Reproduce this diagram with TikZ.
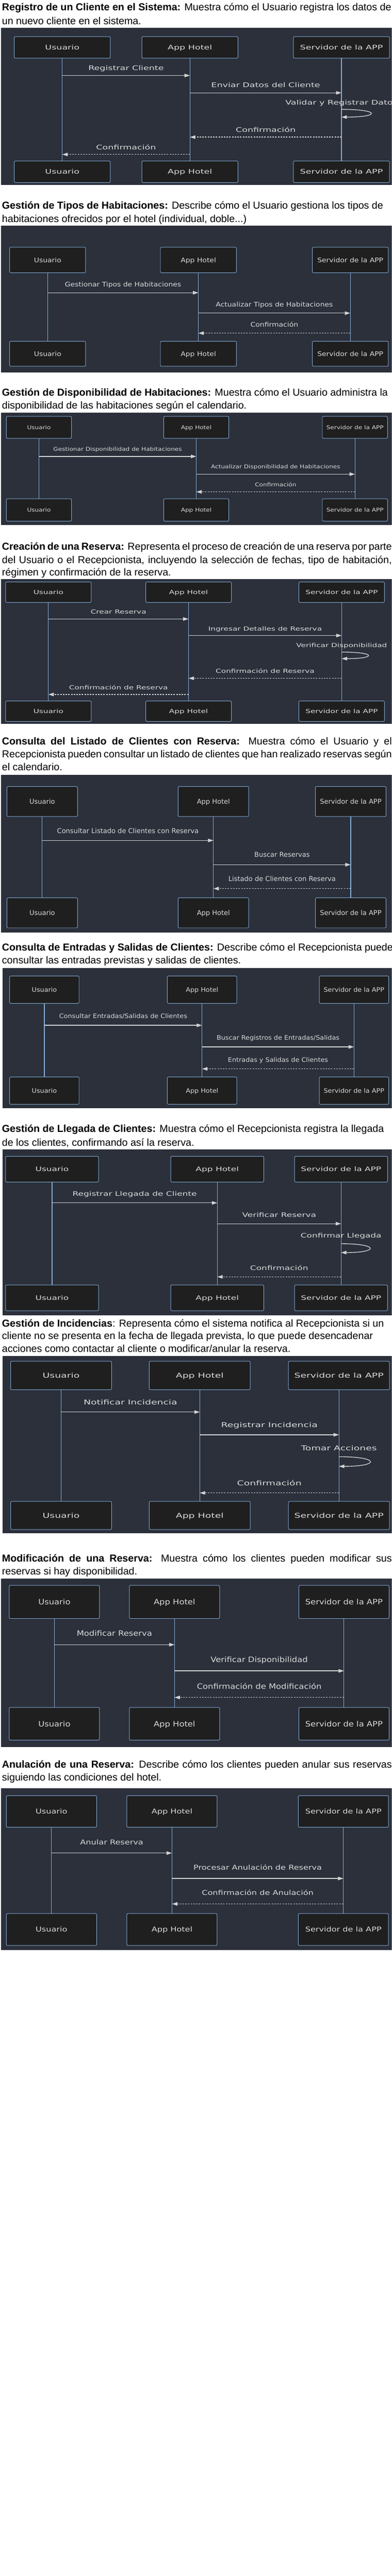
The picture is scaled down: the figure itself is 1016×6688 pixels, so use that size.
\documentclass[tikz,border=0pt]{standalone}
\usepackage{fontspec}
\setmainfont{Liberation Sans}
\newfontfamily\dfont{DejaVu Sans}
\usepackage{graphicx}
\usetikzlibrary{arrows.meta}
\definecolor{bgd}{HTML}{2B303B}
\definecolor{boxf}{HTML}{1F1F1F}
\definecolor{boxd}{HTML}{7FA6CF}
\definecolor{lifec}{HTML}{86ADD7}
\definecolor{sigc}{HTML}{D3D3D3}
\definecolor{txt}{HTML}{DADADA}
\def\fs{16}\def\sx{1}
\newcommand\lab[1]{\scalebox{\sx}[1]{\dfont\fontsize{\fs}{\fs}\selectfont #1}}
\newcount\mc
\newcommand\actors[9]{%
  \foreach \n/\c/\t in {U/#2/Usuario,A/#3/App Hotel,S/#4/Servidor de la APP}{%
    \node[actor, minimum width=#5pt, minimum height={(#7-#6)*1pt}] (#1\n-t) at (\c,{(#6+#7)/2}) {};
    \node[lbl] (#1\n-tl) at (\c,{(#6+#7)/2+0.365*\fs}) {\lab{\t}};
    \node[actor, minimum width=#5pt, minimum height={(#9-#8)*1pt}] (#1\n-b) at (\c,{(#8+#9)/2}) {};
    \node[lbl] (#1\n-bl) at (\c,{(#8+#9)/2+0.365*\fs}) {\lab{\t}};
    \draw[life] (#1\n-t) -- (#1\n-b);
  }%
}
\newcommand\msg[6]{%
  \global\advance\mc by 1
  \coordinate (m\the\mc a) at (#2,#5);
  \coordinate (m\the\mc b) at (#3,#5);
  \node[lbl] (m\the\mc l) at ({(#2+#3)/2},{#4+0.365*\fs}) {\lab{#6}};
  \draw[#1] (m\the\mc a) -- (m\the\mc b);
}
\newcommand\selfmsg[6]{%
  \global\advance\mc by 1
  \coordinate (m\the\mc a) at (#1,#3);
  \coordinate (m\the\mc b) at (#1,#4);
  \node[lbl] (m\the\mc l) at (#1,{#2+0.365*\fs}) {\lab{#6}};
  \draw[sig] (m\the\mc a) .. controls +({#5/0.75},0) and +({#5/0.75},0) .. (m\the\mc b);
}
\newcommand\ttl[3]{\node[ttl] (#1) at (5,#2) {#3};}
\newcommand\ttlj[3]{\node[ttl] (#1) at (5,#2) {\makebox[1011pt][s]{#3}};}
\tikzset{
  actor/.style={draw=boxd, fill=boxf, line width=1.3pt, rounded corners=3pt, inner sep=0pt},
  life/.style={draw=lifec, line width=1.6pt},
  sig/.style={draw=sigc, line width=1.8pt, -{Triangle[length=14pt,width=9pt]}},
  ret/.style={sig, dash pattern=on 4pt off 3pt},
  lbl/.style={inner sep=0pt, anchor=base, text=txt},
  ttl/.style={inner sep=0pt, anchor=base west, font=\fontsize{26.3}{30}\selectfont, text=black},
}
\begin{document}
\begin{tikzpicture}[x=1pt,y=-1pt]
\useasboundingbox (0,0) rectangle (1016,6688);
\fill[white] (0,0) rectangle (1016,6688);
\clip (0,0) rectangle (1016,6688);

% ---------- 1 ----------
\ttl{t1a}{28}{{\bfseries Registro de un Cliente en el Sistema:} Muestra cómo el Usuario registra los datos de}
\ttl{t1b}{63}{un nuevo cliente en el sistema.}
\fill[bgd] (3,72) rectangle (1019,480);
\def\fs{16.5}\def\sx{1.42}
\actors{a}{161.5}{492.5}{885.5}{249}{95}{151}{418}{474}
\msg{sig}{161.5}{492.5}{177}{196}{Registrar Cliente}
\msg{sig}{492.5}{885.5}{221}{241}{Enviar Datos del Cliente}
\selfmsg{885.5}{266}{284}{304}{76}{Validar y Registrar Datos}
\msg{ret}{885.5}{492.5}{337}{356}{Confirmación}
\msg{ret}{492.5}{161.5}{382}{401}{Confirmación}

% ---------- 2 ----------
\ttl{t2a}{542}{{\bfseries Gestión de Tipos de Habitaciones:} Describe cómo el Usuario gestiona los tipos de}
\ttl{t2b}{577}{habitaciones ofrecidos por el hotel (individual, doble...)}
\fill[bgd] (3,586) rectangle (1019,967);
\def\fs{16.5}\def\sx{1.13}
\actors{b}{123.5}{514.5}{908.5}{197}{642}{708}{886}{951}
\msg{sig}{123.5}{514.5}{738}{760}{Gestionar Tipos de Habitaciones}
\msg{sig}{514.5}{908.5}{791}{813}{Actualizar Tipos de Habitaciones}
\msg{ret}{908.5}{514.5}{843}{865}{Confirmación}

% ---------- 3 ----------
\ttl{t3a}{1028}{{\bfseries Gestión de Disponibilidad de Habitaciones:} Muestra cómo el Usuario administra la}
\ttl{t3b}{1062}{disponibilidad de las habitaciones según el calendario.}
\fill[bgd] (3,1071) rectangle (1019,1363);
\def\fs{13.7}\def\sx{1.18}
\actors{c}{101}{509}{920.5}{169}{1081}{1138}{1295}{1353}
\msg{sig}{101}{509}{1166}{1185}{Gestionar Disponibilidad de Habitaciones}
\msg{sig}{509}{920.5}{1212}{1231}{Actualizar Disponibilidad de Habitaciones}
\msg{ret}{920.5}{509}{1258}{1277}{Confirmación}

% ---------- 4 ----------
\ttlj{t4a}{1428}{{\bfseries Creación de una Reserva:} Representa el proceso de creación de una reserva por parte}
\ttlj{t4b}{1462}{del Usuario o el Recepcionista, incluyendo la selección de fechas, tipo de habitación,}
\ttl{t4c}{1495}{régimen y confirmación de la reserva.}
\fill[bgd] (3,1503) rectangle (1019,1879);
\def\fs{14.6}\def\sx{1.4}
\actors{d}{125.5}{489}{886}{222}{1511}{1564}{1820}{1873}
\msg{sig}{125.5}{489}{1588}{1607}{Crear Reserva}
\msg{sig}{489}{886}{1632}{1650}{Ingresar Detalles de Reserva}
\selfmsg{886}{1675}{1693}{1710}{68}{Verificar Disponibilidad}
\msg{ret}{886}{489}{1742}{1761}{Confirmación de Reserva}
\msg{ret}{489}{125.5}{1785}{1803}{Confirmación de Reserva}

% ---------- 5 ----------
\ttlj{t5a}{1933}{{\bfseries Consulta del Listado de Clientes con Reserva:} Muestra cómo el Usuario y el}
\ttlj{t5b}{1967}{Recepcionista pueden consultar un listado de clientes que han realizado reservas según}
\ttl{t5c}{2000}{el calendario.}
\fill[bgd] (3,2012) rectangle (1019,2421);
\def\fs{17.4}\def\sx{1.0}
\actors{e}{109.5}{553.5}{909.5}{183}{2042}{2120}{2331}{2409}
\msg{sig}{109.5}{553.5}{2157}{2182}{Consultar Listado de Clientes con Reserva}
\msg{sig}{553.5}{909.5}{2219}{2245}{Buscar Reservas}
\msg{ret}{909.5}{553.5}{2281}{2307}{Listado de Clientes con Reserva}

% ---------- 6 ----------
\ttl{t6a}{2468}{{\bfseries Consulta de Entradas y Salidas de Clientes:} Describe cómo el Recepcionista puede}
\ttl{t6b}{2502}{consultar las entradas previstas y salidas de clientes.}
\fill[bgd] (7,2513) rectangle (1023,2877);
\def\fs{16}\def\sx{1.07}
\actors{f}{115}{524}{918}{180}{2534}{2605}{2796}{2867}
\msg{sig}{115}{524}{2638}{2662}{Consultar Entradas/Salidas de Clientes}
\msg{sig}{524}{918}{2694}{2718}{Buscar Registros de Entradas/Salidas}
\msg{ret}{918}{524}{2751}{2775}{Entradas y Salidas de Clientes}

% ---------- 7 ----------
\ttl{t7a}{2940}{{\bfseries Gestión de Llegada de Clientes:} Muestra cómo el Recepcionista registra la llegada}
\ttl{t7b}{2975}{de los clientes, confirmando así la reserva.}
\fill[bgd] (7,2984) rectangle (1023,3415);
\def\fs{16}\def\sx{1.42}
\actors{g}{135}{563.5}{884.5}{241}{3002}{3069}{3336}{3403}
\msg{sig}{135}{563.5}{3100}{3123}{Registrar Llegada de Cliente}
\msg{sig}{563.5}{884.5}{3154}{3177}{Verificar Reserva}
\selfmsg{884.5}{3208}{3229}{3252}{74}{Confirmar Llegada}
\msg{ret}{884.5}{563.5}{3292}{3315}{Confirmación}

% ---------- 8 ----------
\ttl{t8a}{3445}{{\bfseries Gestión de Incidencias}: Representa cómo el sistema notifica al Recepcionista si un}
\ttl{t8b}{3477}{cliente no se presenta en la fecha de llegada prevista, lo que puede desencadenar}
\ttl{t8c}{3511}{acciones como contactar al cliente o modificar/anular la reserva.}
\fill[bgd] (7,3521) rectangle (1023,3981);
\def\fs{17.4}\def\sx{1.45}
\actors{h}{158.5}{518}{879}{262}{3534}{3608}{3898}{3971}
\msg{sig}{158.5}{518}{3641}{3666}{Notificar Incidencia}
\msg{sig}{518}{879}{3699}{3725}{Registrar Incidencia}
\selfmsg{879}{3759}{3782}{3807}{80}{Tomar Acciones}
\msg{ret}{879}{518}{3851}{3876}{Confirmación}

% ---------- 9 ----------
\ttlj{t9a}{4055}{{\bfseries Modificación de una Reserva:} Muestra cómo los clientes pueden modificar sus}
\ttl{t9b}{4088}{reservas si hay disponibilidad.}
\fill[bgd] (3,4098) rectangle (1019,4536);
\def\fs{19.2}\def\sx{1.14}
\actors{i}{141}{452.5}{892}{234}{4116}{4202}{4433}{4518}
\msg{sig}{141}{452.5}{4241}{4270}{Modificar Reserva}
\msg{sig}{452.5}{892}{4309}{4338}{Verificar Disponibilidad}
\msg{ret}{892}{452.5}{4378}{4407}{Confirmación de Modificación}

% ---------- 10 ----------
\ttlj{t10a}{4590}{{\bfseries Anulación de una Reserva:} Describe cómo los clientes pueden anular sus reservas}
\ttl{t10b}{4623}{siguiendo las condiciones del hotel.}
\fill[bgd] (3,4643) rectangle (1019,5063);
\def\fs{17.4}\def\sx{1.24}
\actors{j}{133.5}{446}{890.5}{234}{4662}{4744}{4968}{5051}
\msg{sig}{133.5}{446}{4783}{4811}{Anular Reserva}
\msg{sig}{446}{890.5}{4848}{4877}{Procesar Anulación de Reserva}
\msg{ret}{890.5}{446}{4914}{4943}{Confirmación de Anulación}
\end{tikzpicture}
\end{document}
